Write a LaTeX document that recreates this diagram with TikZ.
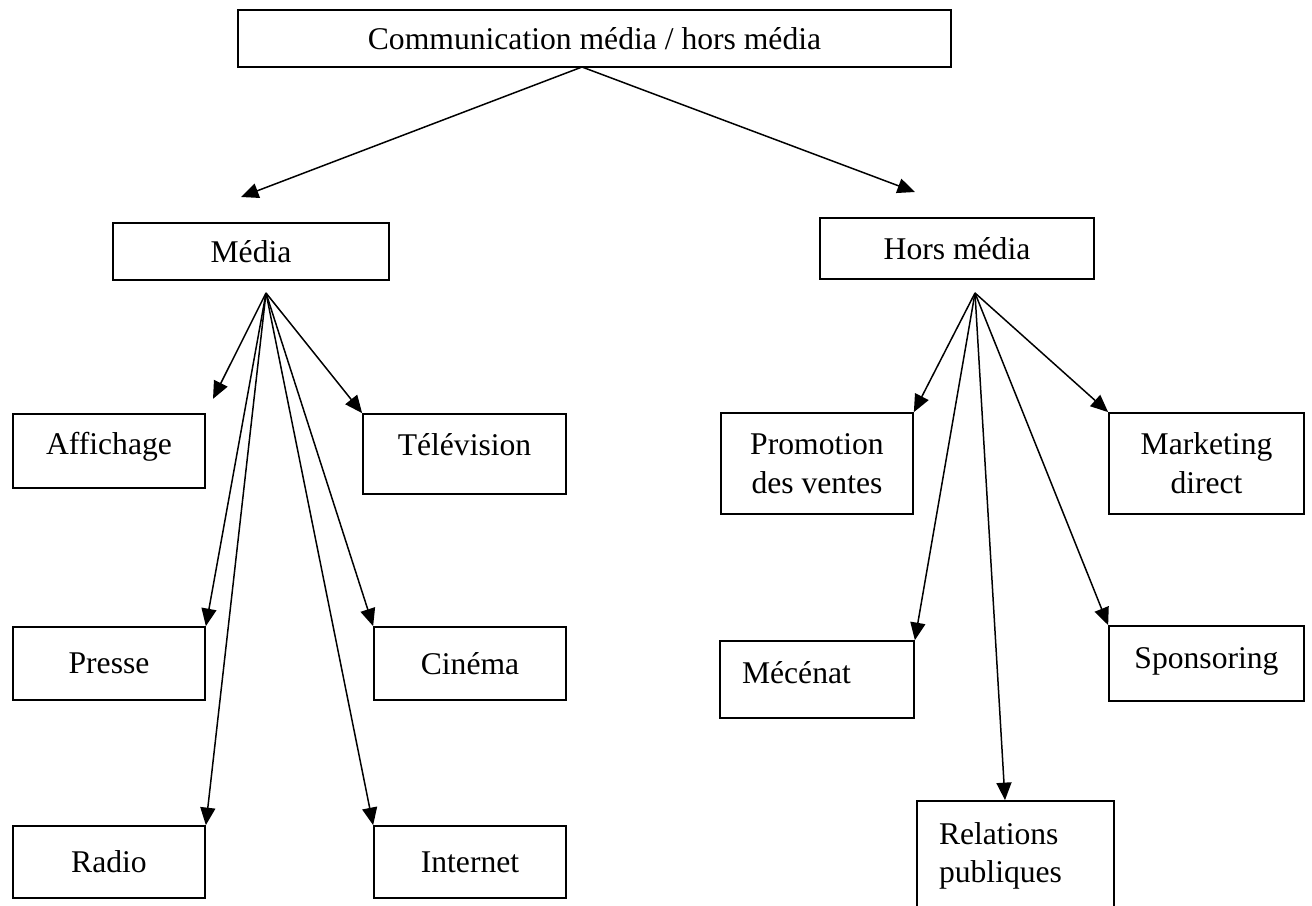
\documentclass[tikz,border=0pt]{standalone}
\usepackage{fontspec}
\setmainfont{Liberation Serif}
\usetikzlibrary{arrows.meta}

\tikzset{
  box/.style={draw, line width=1pt, inner sep=0pt, align=center,
    font=\fontsize{18}{22}\selectfont},
  arrow/.style={line width=0.85pt, -{Triangle[length=0.35cm, width=0.3cm]}},
}

\begin{document}
\begin{tikzpicture}[x=0.02cm, y=-0.02cm]
  \useasboundingbox (0,0) rectangle (1312,906);

  \node[box, minimum width=14.26cm, minimum height=1.14cm] (comm) at (594.5,38.5) {Communication média / hors média};

  \node[box, minimum width=5.52cm, minimum height=1.14cm] (media) at (251,251.5) {Média};
  \node[box, minimum width=5.48cm, minimum height=1.22cm] (hors)  at (957,248.5) {Hors média};

  \node[box, minimum width=3.84cm, minimum height=1.48cm, text depth=0.3cm] (affichage) at (109,451) {Affichage};
  \node[box, minimum width=4.06cm, minimum height=1.60cm, text depth=0.4cm] (television) at (464.5,454) {Télévision};
  \node[box, minimum width=3.84cm, minimum height=1.46cm] (presse)     at (109,663.5) {Presse};
  \node[box, minimum width=3.84cm, minimum height=1.46cm] (cinema)     at (470,663.5) {Cinéma};
  \node[box, minimum width=3.84cm, minimum height=1.44cm] (radio)      at (109,862)   {Radio};
  \node[box, minimum width=3.84cm, minimum height=1.44cm] (internet)   at (470,862)   {Internet};

  \node[box, minimum width=3.84cm, minimum height=2.02cm] (promotion)  at (817,463.5)    {Promotion\\des ventes};
  \node[box, minimum width=3.90cm, minimum height=2.02cm] (marketing)  at (1206.5,463.5) {Marketing\\direct};
  \node[box, minimum height=1.54cm, align=left, text width=3.00cm, inner xsep=0.44cm, text depth=0.28cm] (mecenat) at (817,679.5) {Mécénat};
  \node[box, minimum width=3.90cm, minimum height=1.50cm, text depth=0.22cm] (sponsoring) at (1206.5,663.5) {Sponsoring};
  \node[box, minimum height=2.20cm, align=left, text width=3.06cm, inner xsep=0.44cm] (relations) at (1015.5,856) {Relations\\publiques};

  \coordinate (top)  at (582,67);
  \coordinate (mfan) at (266,293);
  \coordinate (hfan) at (975,293);
  \coordinate (mediatip) at (241,197);
  \coordinate (horstip)  at (915,192);

  \draw[arrow] (top) -- (mediatip);
  \draw[arrow] (top) -- (horstip);

  \draw[arrow, shorten >=0.32cm] (mfan) -- (affichage.north east);
  \foreach \t/\a in {television/north west, presse/north east, cinema/north west,
                     radio/north east, internet/north west}
    \draw[arrow] (mfan) -- (\t.\a);

  \foreach \t/\a in {promotion/north east, marketing/north west, mecenat/north east,
                     sponsoring/north west}
    \draw[arrow] (hfan) -- (\t.\a);
  \draw[arrow] (hfan) -- ([xshift=-0.21cm]relations.north);
\end{tikzpicture}
\end{document}
